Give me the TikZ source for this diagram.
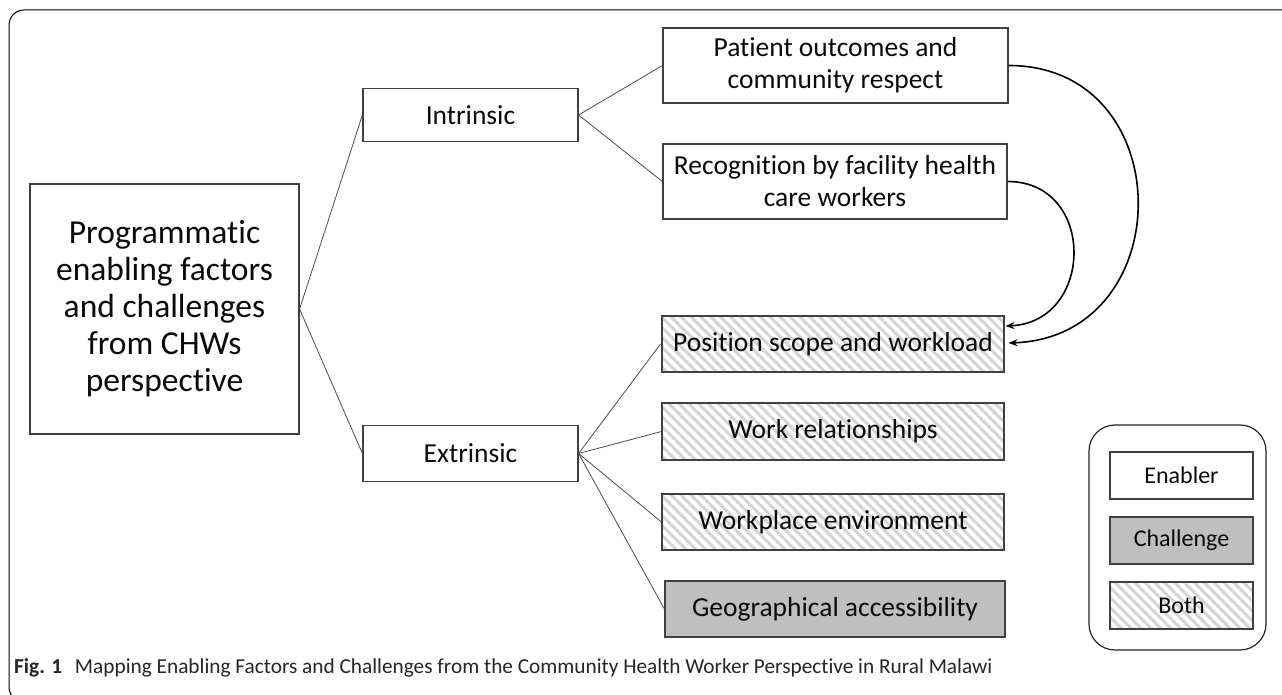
\documentclass[tikz,border=0pt]{standalone}
\usepackage{fontspec}
\setmainfont{Carlito}[Ligatures=NoCommon]
\usetikzlibrary{arrows.meta,patterns.meta}
\definecolor{boxline}{HTML}{404040}
\definecolor{txt}{HTML}{0A0A0A}
\definecolor{chall}{HTML}{BFBFBF}
\definecolor{hatch}{HTML}{D4D4D4}
\begin{document}
\begin{tikzpicture}[x=1pt,y=-1pt,
  box/.style={draw=boxline, line width=1.2pt, rectangle, align=center, text=txt,
    inner sep=0pt, font=\fontsize{27.5}{32}\selectfont},
  bigbox/.style={box, font=\fontsize{33.5}{37}\selectfont},
  hatched/.style={pattern={Lines[angle=-45,distance=7pt,line width=3pt]}, pattern color=hatch},
  challenge/.style={fill=chall},
  legbox/.style={box, minimum width=143, minimum height=47, font=\fontsize{24}{28}\selectfont},
  conn/.style={draw=black!70, line width=0.8pt},
  arr/.style={draw=black, line width=1.6pt, -{Stealth[length=9pt,width=7pt]}},
]
\clip (0,0) rectangle (1282,695);
\fill[white] (0,0) rectangle (1282,695);
% outer frame
\draw[line width=1pt, rounded corners=15pt] (9,10) rectangle (1330,702);

% nodes
\node[bigbox, minimum width=269, minimum height=250] (main) at (164.5,309)
  {Programmatic\\enabling factors\\and challenges\\from CHWs\\perspective};
\node[box, minimum width=215, minimum height=53] (intr) at (470.5,115) {Intrinsic};
\node[box, minimum width=215, minimum height=56] (extr) at (470.5,453.5) {Extrinsic};

\node[box, minimum width=345, minimum height=75] (pat) at (835.5,65.5)
  {Patient outcomes and\\community respect};
\node[box, minimum width=344, minimum height=75] (rec) at (835,181.5)
  {Recognition by facility health\\care workers};
\node[box, hatched, minimum width=342, minimum height=56] (pos) at (833,344)
  {Position scope and workload};
\node[box, hatched, minimum width=342, minimum height=57] (work) at (833,431.5)
  {Work relationships};
\node[box, hatched, minimum width=342, minimum height=56] (wenv) at (833,522)
  {Workplace environment};
\node[box, challenge, minimum width=340, minimum height=56] (geo) at (835,609)
  {Geographical accessibility};

% connectors
\draw[conn] (main.east) -- (intr.west);
\draw[conn] (main.east) -- (extr.west);
\draw[conn] (intr.east) -- (pat.west);
\draw[conn] (intr.east) -- (rec.west);
\draw[conn] (extr.east) -- (pos.west);
\draw[conn] (extr.east) -- (work.west);
\draw[conn] (extr.east) -- (wenv.west);
\draw[conn] (extr.east) -- (geo.west);

% curved arrows
\coordinate (posin) at ([yshift=18pt]pos.east);
\coordinate (posout) at ([xshift=3pt,yshift=1pt]pos.east);
\draw[arr] (pat.east) .. controls +(172,0) and +(172,-6) .. (posout);
\draw[arr] (rec.east) .. controls +(89,0) and +(89,-4) .. (posin);

% legend
\node[draw=black!85, line width=1.2pt, rounded corners=26pt, minimum width=177, minimum height=225] (legend) at (1177.5,537.5) {};
\node[legbox] (len) at (1181.5,475.5) {Enabler};
\node[legbox, challenge] (lch) at (1181.5,540.5) {Challenge};
\node[legbox, hatched] (lbo) at (1181.5,605.5) {Both};

% caption
\node[anchor=base west, inner sep=0pt, font=\fontsize{21.3}{25}\selectfont, text=black!85] (cap) at (14,673)
  {\textbf{Fig. 1}\hspace{0.6em}Mapping Enabling Factors and Challenges from the Community Health Worker Perspective in Rural Malawi};
\end{tikzpicture}
\end{document}
